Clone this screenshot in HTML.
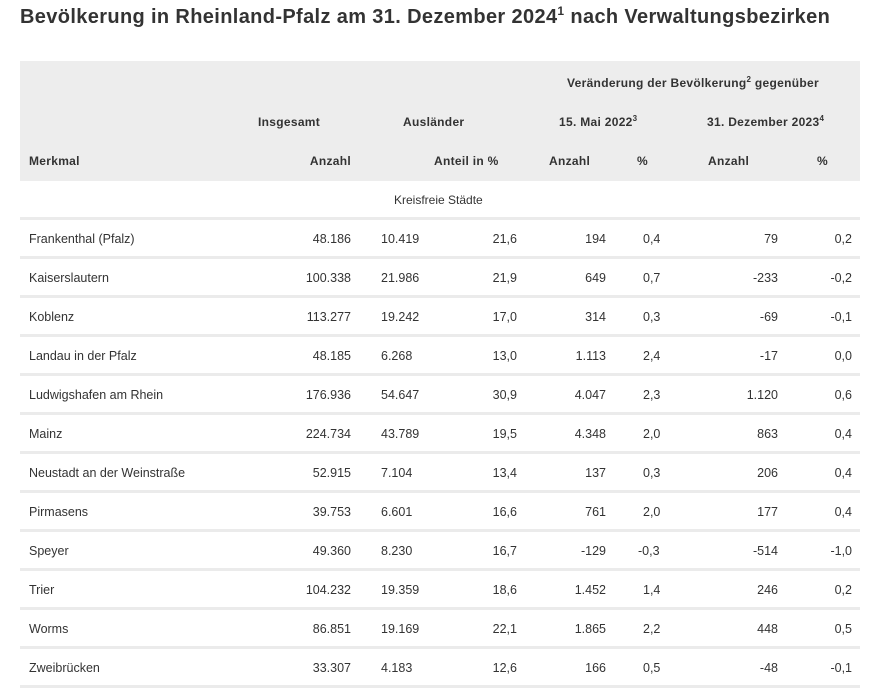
<!DOCTYPE html>
<html><head><meta charset="utf-8"><style>
body{margin:0;width:870px;height:692px;background:#fff;font-family:"Liberation Sans",sans-serif;color:#333;position:relative;overflow:hidden}
.t{position:absolute;left:20px;top:6px;font-size:20px;font-weight:bold;color:#333;white-space:nowrap;letter-spacing:0.36px}
.hd{position:absolute;left:20px;top:61px;width:840px;height:120px;background:#ededed}
.a{position:absolute;font-size:12.5px;white-space:nowrap;line-height:16px}
.b{font-weight:bold;font-size:12px;letter-spacing:0.3px}
.r{text-align:right}
.sep{position:absolute;left:20px;width:840px;height:3px;background:#ebebeb}
sup{font-size:8px;vertical-align:top;position:relative;top:-3px}
</style></head><body>
<div class="t">Bevölkerung in Rheinland-Pfalz am 31. Dezember 2024<sup style="font-size:12px;top:-2px">1</sup> nach Verwaltungsbezirken</div>
<div class="hd"></div>
<div class="a b" style="left:567px;top:75px">Veränderung der Bevölkerung<sup>2</sup> gegenüber</div>
<div class="a b" style="left:258px;top:114px">Insgesamt</div>
<div class="a b" style="left:403px;top:114px">Ausländer</div>
<div class="a b" style="left:559px;top:114px">15. Mai 2022<sup>3</sup></div>
<div class="a b" style="left:707px;top:114px">31. Dezember 2023<sup>4</sup></div>
<div class="a b" style="left:29px;top:153px">Merkmal</div>
<div class="a b r" style="right:519px;top:153px">Anzahl</div>
<div class="a b" style="left:434px;top:153px">Anteil in %</div>
<div class="a b" style="left:549px;top:153px">Anzahl</div>
<div class="a b" style="left:637px;top:153px">%</div>
<div class="a b" style="left:708px;top:153px">Anzahl</div>
<div class="a b" style="left:817px;top:153px">%</div>
<div class="a" style="left:394px;top:192px;font-size:12px">Kreisfreie Städte</div>
<div id="rows"></div>
<script>
var d=[["Frankenthal (Pfalz)","48.186","10.419","21,6","194","0,4","79","0,2"],
["Kaiserslautern","100.338","21.986","21,9","649","0,7","-233","-0,2"],
["Koblenz","113.277","19.242","17,0","314","0,3","-69","-0,1"],
["Landau in der Pfalz","48.185","6.268","13,0","1.113","2,4","-17","0,0"],
["Ludwigshafen am Rhein","176.936","54.647","30,9","4.047","2,3","1.120","0,6"],
["Mainz","224.734","43.789","19,5","4.348","2,0","863","0,4"],
["Neustadt an der Weinstraße","52.915","7.104","13,4","137","0,3","206","0,4"],
["Pirmasens","39.753","6.601","16,6","761","2,0","177","0,4"],
["Speyer","49.360","8.230","16,7","-129","-0,3","-514","-1,0"],
["Trier","104.232","19.359","18,6","1.452","1,4","246","0,2"],
["Worms","86.851","19.169","22,1","1.865","2,2","448","0,5"],
["Zweibrücken","33.307","4.183","12,6","166","0,5","-48","-0,1"]];
var h="";
for(var i=0;i<d.length;i++){var y=217+i*39,ty=y+14,r=d[i];
h+='<div class="sep" style="top:'+y+'px"></div>';
h+='<div class="a" style="left:29px;top:'+ty+'px">'+r[0]+'</div>';
h+='<div class="a r" style="right:519px;top:'+ty+'px">'+r[1]+'</div>';
h+='<div class="a" style="left:381px;top:'+ty+'px">'+r[2]+'</div>';
h+='<div class="a r" style="right:353px;top:'+ty+'px">'+r[3]+'</div>';
h+='<div class="a r" style="right:264px;top:'+ty+'px">'+r[4]+'</div>';
h+='<div class="a" style="left:'+(r[5][0]=="-"?638:643)+'px;top:'+ty+'px">'+r[5]+'</div>';
h+='<div class="a r" style="right:92px;top:'+ty+'px">'+r[6]+'</div>';
h+='<div class="a r" style="right:18px;top:'+ty+'px">'+r[7]+'</div>';}
h+='<div class="sep" style="top:685px"></div>';
document.getElementById("rows").innerHTML=h;
</script>
</body></html>
